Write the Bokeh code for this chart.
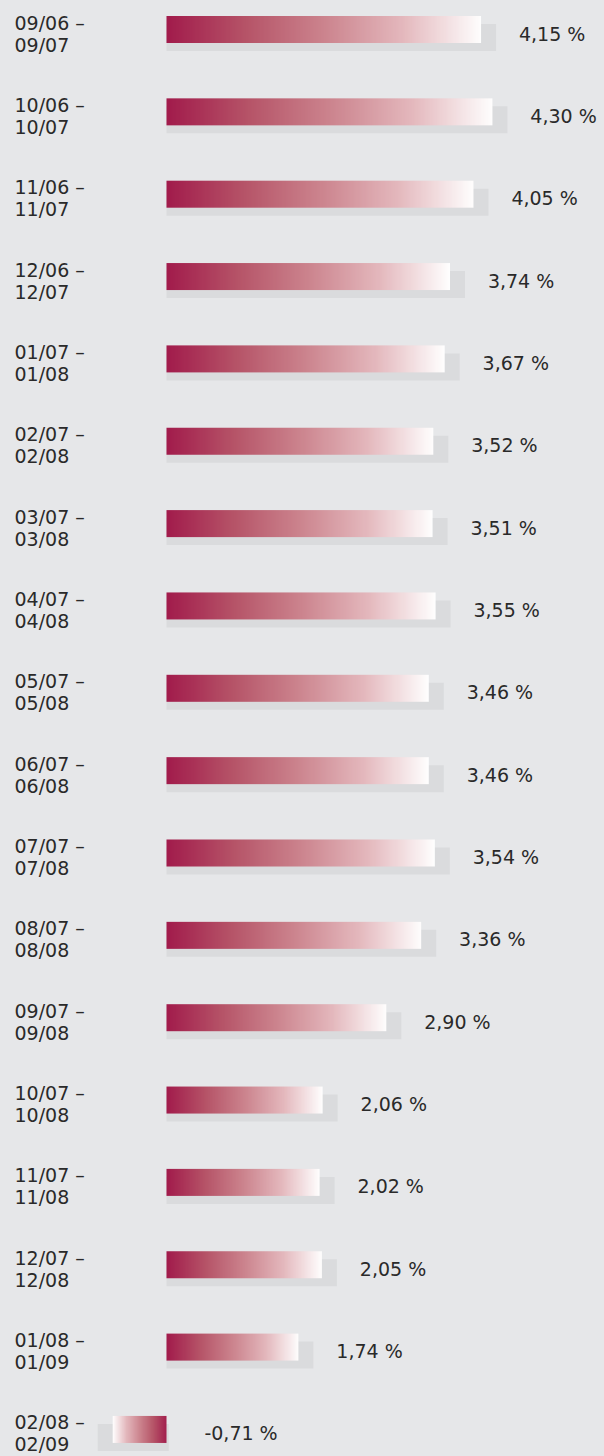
import numpy as np
from bokeh.plotting import figure
from bokeh.models import Range1d, ColumnDataSource, GlobalInlineStyleSheet
from bokeh.core.properties import value
from bokeh.embed import file_html
from bokeh.resources import INLINE

# ---------------- data ----------------
period_start = ["09/06", "10/06", "11/06", "12/06", "01/07", "02/07", "03/07", "04/07", "05/07",
                "06/07", "07/07", "08/07", "09/07", "10/07", "11/07", "12/07", "01/08", "02/08"]
period_end = ["09/07", "10/07", "11/07", "12/07", "01/08", "02/08", "03/08", "04/08", "05/08",
              "06/08", "07/08", "08/08", "09/08", "10/08", "11/08", "12/08", "01/09", "02/09"]
rates = [4.15, 4.30, 4.05, 3.74, 3.67, 3.52, 3.51, 3.55, 3.46,
         3.46, 3.54, 3.36, 2.90, 2.06, 2.02, 2.05, 1.74, -0.71]

# ---------------- layout / style ----------------
W, H = 604, 1456
PX_PER_UNIT = 75.8      # horizontal pixels per percentage point
ROW_PX = 82.35          # vertical pixels per row
ZERO_PX = 166           # screen x of the zero line
FIRST_CENTER_PX = 29.0  # screen y of first bar's centre
BAR_PX = 27
SHADOW_DY_PX = 8
SHADOW_DX_PX = 15
BG = "#e6e7e9"
SHADOW = "#dadbdd"
TEXT = "#2a2a2a"
FONT = "DejaVu Sans"
FS = "19px"

n = len(rates)
bar_h = BAR_PX / ROW_PX
sh_dy = SHADOW_DY_PX / ROW_PX
sh_dx = SHADOW_DX_PX / PX_PER_UNIT

x_range = Range1d(-ZERO_PX / PX_PER_UNIT, (W - ZERO_PX) / PX_PER_UNIT)
y_range = Range1d(-(H - FIRST_CENTER_PX) / ROW_PX, FIRST_CENTER_PX / ROW_PX)

p = figure(width=W, height=H, x_range=x_range, y_range=y_range,
           x_axis_type=None, y_axis_type=None,
           toolbar_location=None, output_backend="svg", min_border=0,
           background_fill_color=BG, border_fill_color=BG, outline_line_color=None)
p.grid.visible = False
p.stylesheets = [GlobalInlineStyleSheet(css=f"html, body {{ margin: 0; padding: 0; background: {BG}; overflow: hidden; }}")]

rows = [-i for i in range(n)]

# shadows
sh_left = [0 if v >= 0 else v - sh_dx for v in rates]
sh_right = [v + sh_dx if v >= 0 else 0.03 for v in rates]
sh_top = [r + bar_h / 2 - sh_dy for r in rows]
sh_bot = [r - bar_h / 2 - sh_dy for r in rows]
p.quad(left=sh_left, right=sh_right, top=sh_top, bottom=sh_bot,
       fill_color=SHADOW, line_color=None)

# gradient bars (dark at zero side -> white at the end)
N = 256
t = np.linspace(0, 1, N)
stops_t = [0.0, 0.25, 0.5, 0.75, 1.0]
stops_rgb = [(162, 28, 76), (182, 84, 104), (204, 132, 142), (228, 184, 189), (255, 255, 255)]
r_ch = np.interp(t, stops_t, [c[0] for c in stops_rgb])
g_ch = np.interp(t, stops_t, [c[1] for c in stops_rgb])
b_ch = np.interp(t, stops_t, [c[2] for c in stops_rgb])


def grad_image(reverse):
    img = np.empty((1, N), dtype=np.uint32)
    view = img.view(dtype=np.uint8).reshape((1, N, 4))
    rr, gg, bb = (r_ch, g_ch, b_ch) if not reverse else (r_ch[::-1], g_ch[::-1], b_ch[::-1])
    view[0, :, 0] = rr.astype(np.uint8)
    view[0, :, 1] = gg.astype(np.uint8)
    view[0, :, 2] = bb.astype(np.uint8)
    view[0, :, 3] = 255
    return img


images = [grad_image(v < 0) for v in rates]
p.image_rgba(image=images, x=[min(v, 0) for v in rates], y=[r - bar_h / 2 for r in rows],
             dw=[abs(v) for v in rates], dh=[bar_h] * n)

# period labels (two lines)
labels = [f"{s} –\n{e}" for s, e in zip(period_start, period_end)]
src_l = ColumnDataSource(dict(x=[0] * n, y=rows, text=labels))
p.text(x="x", y="y", text="text", source=src_l, x_offset=14 - ZERO_PX, y_offset=4,
       text_align="left", text_baseline="middle", text_font=value(FONT),
       text_font_size=FS, text_color=TEXT, text_line_height=1.0)

# value labels
val_text = [f"{v:.2f}".replace(".", ",") + " %" for v in rates]
src_v = ColumnDataSource(dict(x=[max(v, 0) + 0.5 for v in rates], y=rows, text=val_text))
p.text(x="x", y="y", text="text", source=src_v, y_offset=4,
       text_align="left", text_baseline="middle", text_font=value(FONT),
       text_font_size=FS, text_color=TEXT)

open("out.html", "w").write(file_html(p, INLINE))
